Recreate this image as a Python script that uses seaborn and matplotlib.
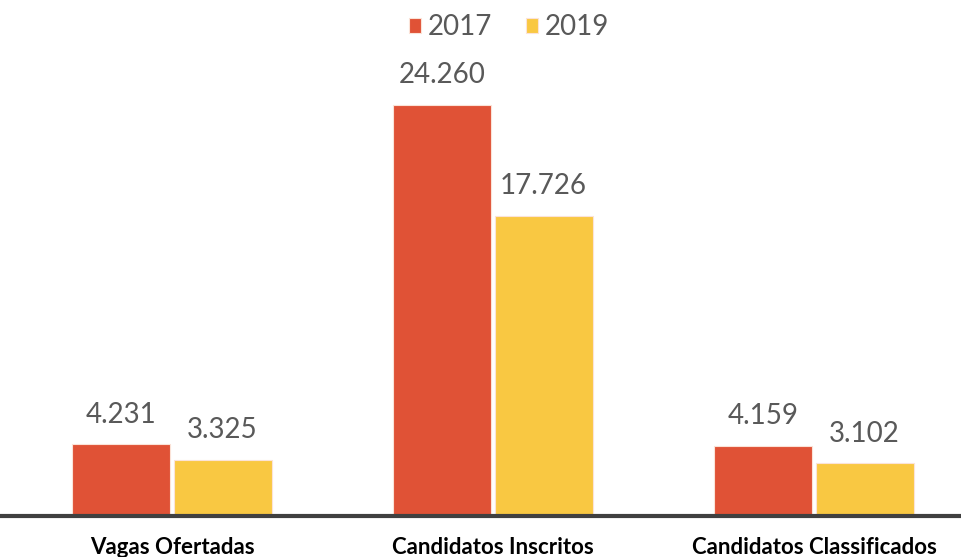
import pandas as pd
import seaborn as sns
import matplotlib.pyplot as plt

sns.set_style("white")
plt.rcParams["font.family"] = ["Lato", "DejaVu Sans"]

CATEGORIES = ["Vagas Ofertadas", "Candidatos Inscritos", "Candidatos Classificados"]
YEARS = ["2017", "2019"]
VALUES_2017 = [4231, 24260, 4159]
VALUES_2019 = [3325, 17726, 3102]
LABELS_2017 = ["4.231", "24.260", "4.159"]
LABELS_2019 = ["3.325", "17.726", "3.102"]

COLORS = ["#E05236", "#F9C842"]


def build_frame() -> pd.DataFrame:
    rows = []
    for cat, v17, v19 in zip(CATEGORIES, VALUES_2017, VALUES_2019):
        rows.append({"categoria": cat, "ano": YEARS[0], "valor": v17})
        rows.append({"categoria": cat, "ano": YEARS[1], "valor": v19})
    return pd.DataFrame(rows)


def main():
    df = build_frame()

    fig = plt.figure(figsize=(9.62, 5.57), dpi=100)
    ax = fig.add_axes([0, 1 - 516 / 557, 1, 516 / 557])

    sns.barplot(
        data=df, x="categoria", y="valor", hue="ano", palette=COLORS,
        saturation=1, width=0.63, gap=0.03, edgecolor="#FBE3D8",
        linewidth=0.8, ax=ax,
    )

    # value labels above the bars
    for container, labels in zip(ax.containers, [LABELS_2017, LABELS_2019]):
        ax.bar_label(container, labels=labels, padding=12, fontsize=20,
                     color="#595959")

    ax.set_ylim(0, 24260 * 516 / 411)
    ax.set_xlim(-0.5 - 11.5 / 321, (962 - 172) / 321)
    ax.set_yticks([])
    ax.set_xlabel("")
    ax.set_ylabel("")
    for side in ["top", "left", "right"]:
        ax.spines[side].set_visible(False)
    ax.spines["bottom"].set_color("#404040")
    ax.spines["bottom"].set_linewidth(3)
    ax.tick_params(axis="x", length=0, pad=15)
    for lbl in ax.get_xticklabels():
        lbl.set_fontweight("bold")
        lbl.set_fontsize(16)
        lbl.set_color("black")

    handles, labs = ax.get_legend_handles_labels()
    ax.legend(
        handles, labs, loc="center", bbox_to_anchor=(509 / 962, 1 - 27 / 516),
        ncol=2, frameon=False, fontsize=20, labelcolor="#595959",
        handlelength=0.45, handleheight=0.45, handletextpad=0.25,
        columnspacing=1.2,
    )

    fig.savefig("out.png", dpi=100)


if __name__ == "__main__":
    main()
